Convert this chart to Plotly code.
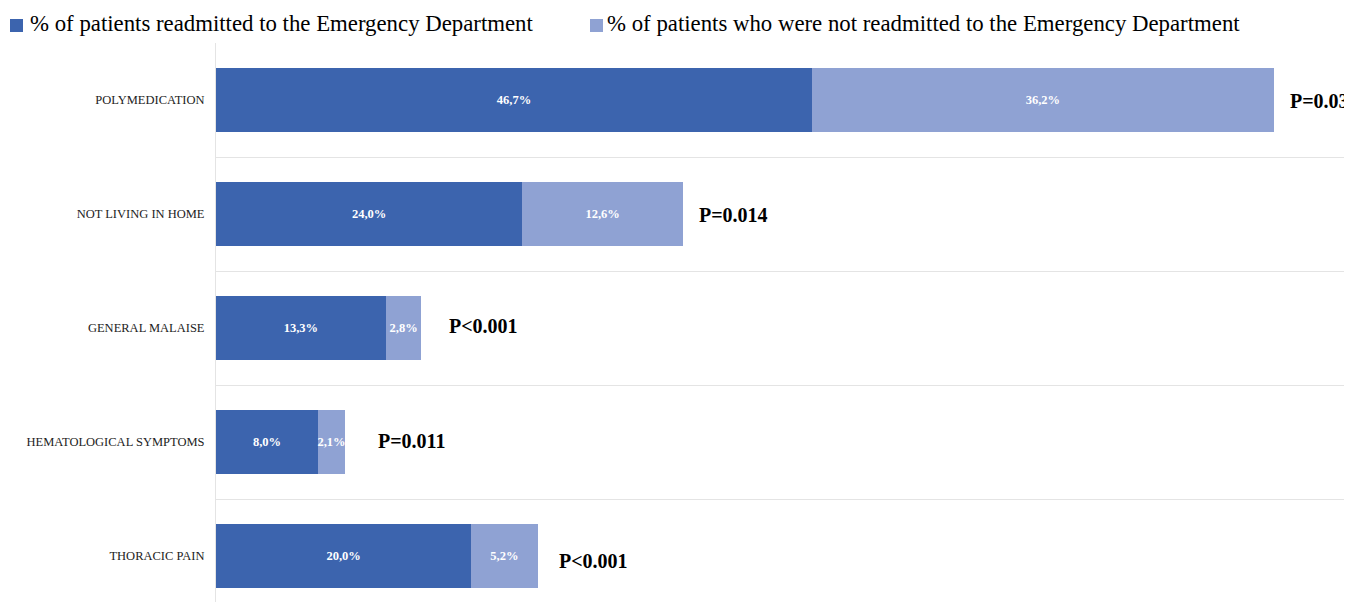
import plotly.graph_objects as go

categories = ["POLYMEDICATION", "NOT LIVING IN HOME", "GENERAL MALAISE",
              "HEMATOLOGICAL SYMPTOMS", "THORACIC PAIN"]
readmitted = [46.7, 24.0, 13.3, 8.0, 20.0]
not_readmitted = [36.2, 12.6, 2.8, 2.1, 5.2]
p_values = ["P=0.031", "P=0.014", "P<0.001", "P=0.011", "P<0.001"]
series_names = ["% of patients readmitted to the Emergency Department",
                "% of patients who were not readmitted to the Emergency Department"]

# label placement offsets (pixels) for the p-value notes, as in the reference
p_xshift = [14, 14, 26, 31, 19]
p_yshift = [-1, -1, 2, 1.5, -5]

n = len(categories)
ypos = [n - 1 - i for i in range(n)]  # top to bottom

dark = "#3C64AE"
light = "#8FA2D3"
colors = [dark, light]
serif = "Liberation Serif"

OFF = 8  # page body margin offset
W, H = 1352, 602
L, T = 216 - OFF, 43 - OFF
PW, PH = W - L, H - T

def fmt(v):
    return f"{v:.1f}%".replace(".", ",")

def px(xp):
    return (xp - OFF - L) / PW

def py(yp):
    return (H - (yp - OFF)) / PH

fig = go.Figure()
for vals, name, col in zip([readmitted, not_readmitted], series_names, colors):
    fig.add_trace(go.Bar(
        y=ypos, x=vals, orientation="h", name=name, showlegend=False,
        marker=dict(color=col, line=dict(width=0)), width=0.56,
        text=[fmt(v) for v in vals], textposition="inside",
        insidetextanchor="middle", textangle=0, constraintext="none",
        textfont=dict(family=serif, size=12.5, color="white", weight="bold"),
        cliponaxis=False,
    ))

for y, a, b, p, xs, ys in zip(ypos, readmitted, not_readmitted, p_values,
                              p_xshift, p_yshift):
    fig.add_annotation(x=a + b, y=y, text=f"<b>{p}</b>", showarrow=False,
                       xanchor="left", xshift=xs, yshift=ys,
                       font=dict(family=serif, size=20, color="black"))

# manual legend (squares + labels) placed like the reference
legend_pos = [(10, 28), (590, 605)]
for (sx, tx), name, col in zip(legend_pos, series_names, colors):
    fig.add_shape(type="rect", xref="paper", yref="paper",
                  x0=px(sx), x1=px(sx + 13), y0=py(32), y1=py(19),
                  fillcolor=col, line=dict(width=0), layer="above")
    fig.add_annotation(xref="paper", yref="paper", x=px(tx), y=py(23),
                       xanchor="left", yanchor="middle", showarrow=False,
                       text=name, font=dict(family=serif, size=22.8, color="black"))

# axis ranges matching the reference pixel scale (12.76 px per %, 114 px per band)
x_max = PW / 12.76
y_top = 4.5
y_bottom = y_top - PH / 114.0

fig.update_layout(
    barmode="stack",
    width=W, height=H,
    margin=dict(l=L, r=0, t=T, b=0, autoexpand=False),
    plot_bgcolor="white", paper_bgcolor="white",
    showlegend=False,
)
fig.update_xaxes(range=[0, x_max], showgrid=False, showticklabels=False,
                 zeroline=False, showline=False, automargin=False)
fig.update_yaxes(range=[y_bottom, y_top], tickmode="array", tickvals=ypos,
                 ticktext=categories, showgrid=False, zeroline=False,
                 showline=True, linecolor="#e4e4e4", linewidth=1,
                 ticks="outside", ticklen=8, tickcolor="rgba(0,0,0,0)",
                 automargin=False,
                 tickfont=dict(family=serif, size=12.5, color="#222222"),
                 minor=dict(tickmode="array", tickvals=[4.5, 3.5, 2.5, 1.5, 0.5],
                            showgrid=True, gridcolor="#e4e4e4", gridwidth=1,
                            ticks=""))

fig.write_html("out.html")
